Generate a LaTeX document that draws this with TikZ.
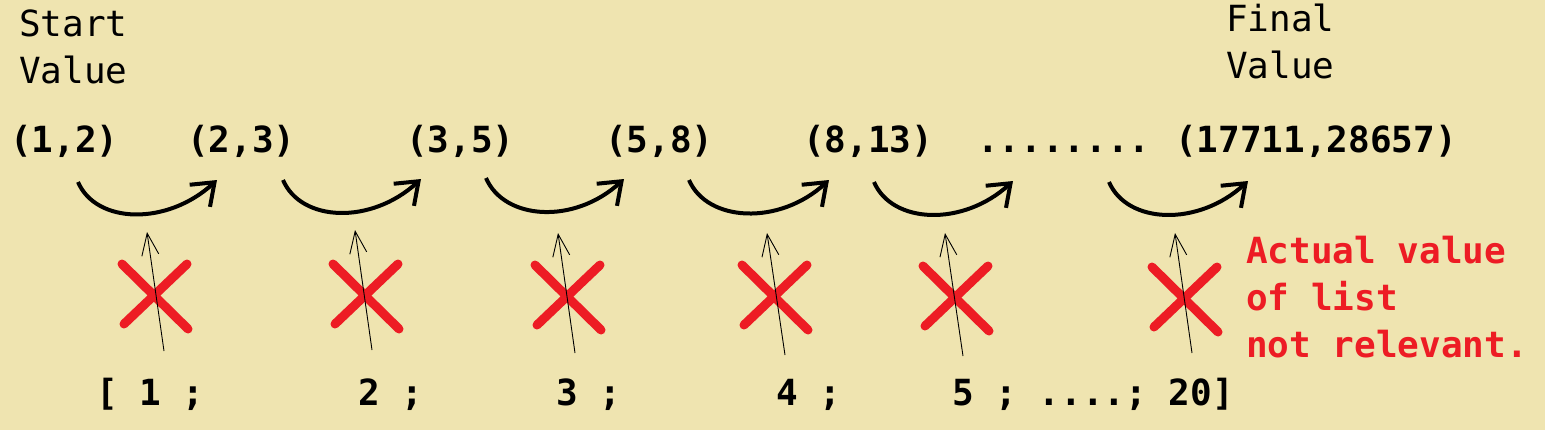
\documentclass[tikz,border=0pt]{standalone}
\usepackage{fontspec}
\setmonofont{DejaVu Sans Mono}
\usetikzlibrary{arrows.meta,calc}
\definecolor{bg}{RGB}{239,228,176}
\definecolor{pred}{RGB}{237,28,36}
\begin{document}
\begin{tikzpicture}[x=1bp,y=-1bp,
  lbl/.style={inner sep=0pt, anchor=base west, align=left, font=\ttfamily\fontsize{36bp}{47bp}\selectfont},
  val/.style={lbl, font=\ttfamily\bfseries\fontsize{36bp}{47bp}\selectfont},
  note/.style={val, text=pred},
  hop/.style={line width=4bp, -{Straight Barb[length=20bp,width=30bp]}},
  ptr/.style={line width=0.9bp, -{Straight Barb[length=22bp,width=17bp]}},
  cross/.style={line width=9bp, line cap=round, draw=pred}]
\fill[bg] (0,0) rectangle (1545,430);
\useasboundingbox (0,0) rectangle (1545,430);
% labels (anchored at the baseline of the last line)
\node[lbl] (start) at (19,83) {Start\\Value};
\node[lbl] (final) at (1226,78) {Final\\Value};
% pairs
\node[val] (p1) at (10,152) {(1,2)};
\node[val] (p2) at (187,152) {(2,3)};
\node[val] (p3) at (406,152) {(3,5)};
\node[val] (p4) at (605,152) {(5,8)};
\node[val] (p5) at (803,152) {(8,13)};
\node[val] (dots) at (977,152) {........};
\node[val] (p6) at (1175,152) {(17711,28657)};
% list
\node[val] (b1) at (96,405) {[ 1 ;};
\node[val] (b2) at (358,405) {2 ;};
\node[val] (b3) at (556,405) {3 ;};
\node[val] (b4) at (776,405) {4 ;};
\node[val] (b5) at (952,405) {5 ; ....; 20]};
\node[note] (note) at (1246,357) {Actual value\\of list\\not relevant.};
% hops
\foreach \i/\sx/\sy/\ex/\ey in {1/78/182/217/180, 2/283/180/421/179, 3/486/178/624/179,
    4/689/180/829/180, 5/874/182/1013/181, 6/1109/182/1248/181}{
  \coordinate (h\i s) at (\sx,\sy);
  \coordinate (h\i e) at (\ex,\ey);
  \draw[hop] (h\i s) .. controls ($(h\i s)+(18,42)$) and ($(h\i e)+(-50,46)$) .. (h\i e);
}
% crosses
\foreach \i/\cx/\cy in {1/155/296, 2/366/296, 3/568/297, 4/775/297, 5/956/298, 6/1185/299}{
  \coordinate (x\i) at (\cx,\cy);
  \draw[cross] ($(x\i)+(-33,-32)$) -- ($(x\i)+(33,33)$)
               ($(x\i)+(32,-32)$) -- ($(x\i)+(-31,28)$);
}
% pointers
\foreach \i/\bx/\by/\tx/\ty in {1/164/351/147/232, 2/372/350/355/230, 3/575/353/558/233,
    4/785/355/767/233, 5/963/356/945/233, 6/1192/353/1175/233}{
  \coordinate (a\i b) at (\bx,\by);
  \coordinate (a\i t) at (\tx,\ty);
  \draw[ptr] (a\i b) -- (a\i t);
}
\end{tikzpicture}
\end{document}
